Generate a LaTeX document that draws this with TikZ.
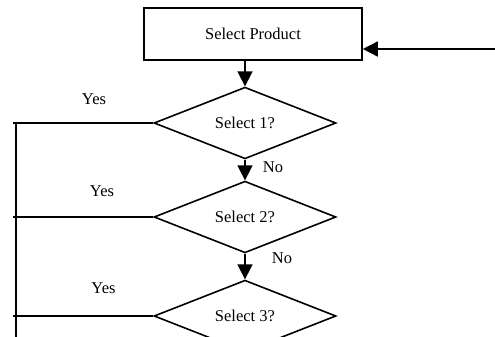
\documentclass[tikz,border=0pt]{standalone}
\usepackage{fontspec}
\setmainfont{Liberation Serif}
\usetikzlibrary{shapes.geometric,arrows.meta}
\begin{document}
\begin{tikzpicture}[x=1pt,y=-1pt,line width=1.6pt,
  txt/.style={font=\fontsize{16.5}{19}\selectfont},
  box/.style={txt,draw,rectangle,minimum width=218pt,minimum height=52pt,inner sep=0pt},
  dec/.style={txt,draw,diamond,minimum width=182pt,minimum height=64pt,inner sep=0pt},
  lbl/.style={txt,inner sep=0pt},
  arr/.style={-{Triangle[length=15pt,width=15pt]}}]
\fill[white] (0,0) rectangle (495,337);
\useasboundingbox (0,0) rectangle (495,337);
\clip (0,0) rectangle (495,337);
\node[box] (prod) at (253,34) {Select Product};
\node[dec] (d1) at (245,123) {Select 1?};
\node[dec] (d2) at (245,217) {Select 2?};
\node[dec] (d3) at (245,316) {Select 3?};
\coordinate (in) at (496,49);
\coordinate (railtop) at (16,123);
\coordinate (railbot) at (16,345);
\coordinate (e1) at (13,123);
\coordinate (e2) at (13,217);
\coordinate (e3) at (13,316);
\draw[arr] (in) -- (in -| prod.east);
\draw[arr] (prod.south -| d1.north) -- (d1.north);
\draw[arr] (d1.south) -- (d2.north);
\draw[arr] (d2.south) -- (d3.north);
\draw (d1.west) -- (e1);
\draw (d2.west) -- (e2);
\draw (d3.west) -- (e3);
\draw (railtop) -- (railbot);
\node[lbl] (yes1) at (94,99) {Yes};
\node[lbl] (yes2) at (102,191) {Yes};
\node[lbl] (yes3) at (103.5,288) {Yes};
\node[lbl] (no1) at (273,167) {No};
\node[lbl] (no2) at (282,258) {No};
\end{tikzpicture}
\end{document}
